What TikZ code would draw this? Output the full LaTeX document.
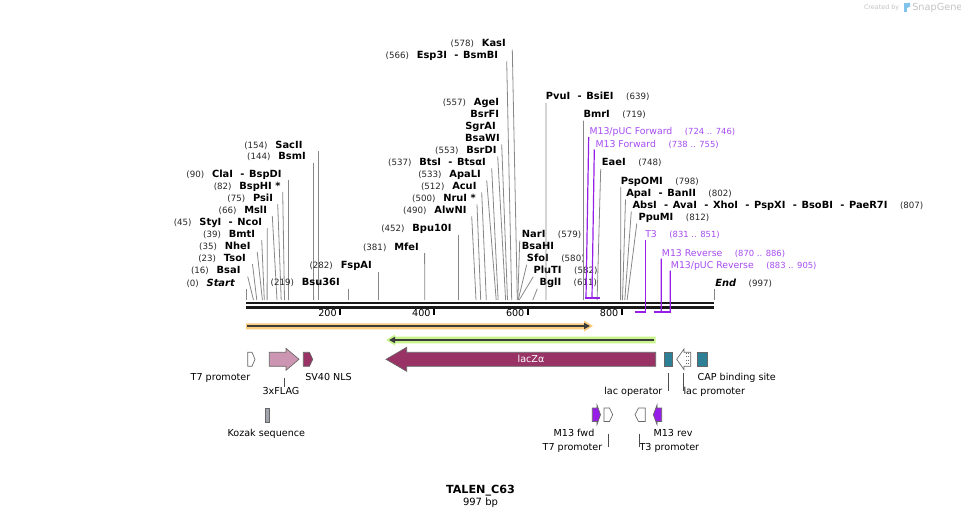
\documentclass[tikz,border=0pt]{standalone}
\usepackage{fontspec}
\setmainfont{DejaVu Sans}
\usetikzlibrary{positioning,arrows.meta}
\definecolor{cutgray}{RGB}{135,135,135}
\definecolor{prmtext}{RGB}{165,75,240}
\definecolor{prmline}{RGB}{150,30,230}
\definecolor{lzmaroon}{RGB}{153,51,102}
\definecolor{flagpink}{RGB}{204,150,178}
\definecolor{opteal}{RGB}{45,128,150}
\definecolor{kozakgray}{RGB}{160,164,172}
\definecolor{orfband}{RGB}{250,202,125}
\definecolor{orfgreen}{RGB}{200,244,140}
\definecolor{arrowdark}{RGB}{60,60,60}
\definecolor{markgray}{RGB}{195,195,195}
\definecolor{snapblue}{RGB}{130,195,235}

\begin{document}
\begin{tikzpicture}[x=0.75pt,y=-0.75pt,enz/.style={font=\fontsize{7.4}{8}\selectfont\bfseries,inner sep=0pt},num/.style={font=\fontsize{6.5}{7}\selectfont,text=black!85,inner sep=0pt},cut/.style={draw=cutgray,line width=0.6pt},prm/.style={font=\fontsize{7}{8}\selectfont,text=prmtext,inner sep=0pt},prmnum/.style={font=\fontsize{6.3}{7}\selectfont,text=prmtext,inner sep=0pt},prmln/.style={draw=prmline,line width=0.9pt},feat/.style={font=\fontsize{7.2}{8}\selectfont,inner sep=0pt},featbox/.style={draw=black!60,line width=0.5pt},tick/.style={draw=black!70,line width=0.6pt}]
\def\dsh{\hspace{5.5pt}-\hspace{3.5pt}}
\def\enzl#1#2#3#4#5#6#7{%
\node[enz,anchor=base east] (#1) at (#2,#3) {#4};
\node[num,base left=5.5pt of #1] (#1n) {(#5)};
\coordinate (#1s) at (#6,300);
\draw[cut] ([shift={(#7,3)}]#1.base east) -- (#1s);}
\def\enzr#1#2#3#4#5#6#7{%
\node[enz,anchor=base west] (#1) at (#2,#3) {#4};
\node[num,base right=9pt of #1] (#1n) {(#5)};
\coordinate (#1s) at (#6,300);
\draw[cut] ([shift={(#7,3)}]#1.base west) -- (#1s);}

\useasboundingbox (0,0) rectangle (961,517);

% backbone and scale
\coordinate (bbL) at (246,303);
\coordinate (bbR) at (714,303);
\draw[line width=1.95pt,black!90] (bbL) -- (bbR);
\draw[line width=1.95pt,black!90] ([yshift=-3.3pt]bbL) -- ([yshift=-3.3pt]bbR);
\draw[line width=1.5pt] (339.9,309) -- (339.9,314.5);
\draw[line width=1.5pt] (433.8,309) -- (433.8,314.5);
\draw[line width=1.5pt] (527.6,309) -- (527.6,314.5);
\draw[line width=1.5pt] (621.5,309) -- (621.5,314.5);
\node[feat,anchor=base east] (s200) at (336.9,316) {200};
\node[feat,anchor=base east] (s400) at (430.8,316) {400};
\node[feat,anchor=base east] (s600) at (524.6,316) {600};
\node[feat,anchor=base east] (s800) at (618.5,316) {800};

% cut sites, left side
\enzl{startl}{235}{286}{\itshape Start}{0}{246}{11}
\enzl{bsai}{240.7}{273.5}{BsaI}{16}{253.5}{7}
\enzl{tsoi}{246}{261}{TsoI}{23}{256.8}{6.5}
\enzl{nhei}{250.7}{249}{NheI}{35}{262.4}{6.5}
\enzl{bmti}{255.3}{237}{BmtI}{39}{264.3}{6.4}
\enzl{styi}{262.3}{225}{StyI\dsh NcoI}{45}{267.1}{5}
\enzl{msli}{267.3}{213}{MslI}{66}{277}{5}
\enzl{psii}{273.3}{201}{PsiI}{75}{281.2}{4.4}
\enzl{bsphi}{280.7}{189}{BspHI *}{82}{284.5}{2}
\enzl{clai}{281.7}{177}{ClaI\dsh BspDI}{90}{288.2}{6.5}
\enzl{bsmi}{306}{160}{BsmI}{144}{313.6}{7.5}
\enzl{sacii}{302.7}{148}{SacII}{154}{318.3}{15.6}
\enzl{bsu36i}{340}{285.5}{Bsu36I}{219}{348.8}{8.8}
\enzl{fspai}{372}{268.5}{FspAI}{282}{378.4}{6.4}
\enzl{mfei}{419}{250}{MfeI}{381}{424.8}{5.6}
\enzl{bpu10i}{451.7}{231.7}{Bpu10I}{452}{458.2}{6.5}
\enzl{alwni}{466.7}{213.3}{AlwNI}{490}{476}{5}
\enzl{nrui}{476}{201.3}{NruI *}{500}{480.7}{1}
\enzl{acui}{476.7}{189.3}{AcuI}{512}{486.3}{5}
\enzl{apali}{481}{177.3}{ApaLI}{533}{496.2}{5.7}
\enzl{btsi}{486}{165.3}{BtsI\dsh BtsαI}{537}{498.1}{5.7}
\enzl{bsrdi}{496.7}{153.3}{BsrDI}{553}{505.6}{1}
\node[enz,anchor=base east] (agei) at (499.3,106) {AgeI};
\node[num,base left=5.5pt of agei] (agein) {(557)};
\node[enz,anchor=base east] (bsrfi) at (499.3,117.5) {BsrFI};
\node[enz,anchor=base east] (sgrai) at (496,129.3) {SgrAI};
\node[enz,anchor=base east] (bsawi) at (500,141.3) {BsaWI};
\coordinate (bsawis) at (507.5,300);
\draw[cut] ([shift={(1.7,3)}]bsawi.base east) -- (bsawis);
\enzl{esp3i}{498.3}{58.3}{Esp3I\dsh BsmBI}{566}{511.7}{8.4}
\enzl{kasi}{506}{46.7}{KasI}{578}{517.3}{6.3}

% cut sites, right side
\enzr{nari}{521.7}{237.7}{NarI}{579}{517.8}{-2}
\node[enz,anchor=base west] (bsahi) at (521.7,249.7) {BsaHI};
\enzr{sfoi}{526.7}{261.7}{SfoI}{580}{518.2}{0}
\enzr{pluti}{533.3}{273.7}{PluTI}{582}{519.2}{0}
\enzr{bgli}{539.3}{285.7}{BglI}{611}{532.8}{-2}
\enzr{pvui}{545.7}{100}{PvuI\dsh BsiEI}{639}{546}{0.3}
\enzr{bmri}{583.3}{117.7}{BmrI}{719}{583.5}{0.2}
\enzr{eaei}{601.7}{166}{EaeI}{748}{597.1}{-1}
\enzr{pspomi}{620.7}{184}{PspOMI}{798}{620.6}{0}
\enzr{apai}{626}{196.5}{ApaI\dsh BanII}{802}{622.5}{-0.5}
\enzr{absi}{632.3}{208.5}{AbsI\dsh AvaI\dsh XhoI\dsh PspXI\dsh BsoBI\dsh PaeR7I}{807}{624.8}{-1}
\enzr{ppumi}{638.3}{220.5}{PpuMI}{812}{627.1}{-1.5}
\enzr{endl}{715}{286}{\itshape End}{997}{714}{-1}

% primers
\def\prmr#1#2#3#4#5{%
\node[prm,anchor=base west] (#1) at (#2,#3) {#4};
\node[prmnum,base right=9pt of #1] (#1n) {(#5)};}
\prmr{pucfwd}{589.3}{134.5}{M13/pUC Forward}{724 .. 746}
\prmr{mfwd}{595.3}{147}{M13 Forward}{738 .. 755}
\prmr{tthree}{645}{237.5}{T3}{831 .. 851}
\prmr{mrev}{661.7}{256}{M13 Reverse}{870 .. 886}
\prmr{pucrev}{670.7}{268}{M13/pUC Reverse}{883 .. 905}
\coordinate (pucfwds) at (586,298);
\coordinate (mfwds) at (592,298);
\coordinate (tthrees) at (645.7,312.5);
\coordinate (mrevs) at (661.3,312.5);
\coordinate (pucrevs) at (670.3,312.5);
\draw[prmln] ([shift={(-0.6,2.5)}]pucfwd.base west) -- (pucfwds);
\draw[prmln] ([shift={(-1,2.5)}]mfwd.base west) -- (mfwds);
\draw[prmln] ([shift={(0.7,2.5)}]tthree.base west) -- (tthrees);
\draw[prmln] ([shift={(-0.4,2.5)}]mrev.base west) -- (mrevs);
\draw[prmln] ([shift={(-0.4,2.5)}]pucrev.base west) -- (pucrevs);
\draw[prmline,line width=1.5pt] (585,298) -- (599.5,298);
\draw[prmline,line width=1.5pt] (634.5,311.7) -- (646,311.7);
\draw[prmline,line width=1.5pt] (653.5,311.7) -- (670.8,311.7);

% ORF arrows
\fill[orfband] (246,323.3) -- (584,323.3) -- (584,320.5) -- (593,326) -- (584,331.5) -- (584,329.3) -- (246,329.3) -- cycle;
\coordinate (orfaL) at (247,326);
\coordinate (orfaR) at (590,326);
\draw[arrowdark,line width=1.5pt,-{Triangle[length=4.5pt,width=4.5pt]}] (orfaL) -- (orfaR);
\fill[orfgreen] (655.5,336.7) -- (395,336.7) -- (395,334.5) -- (386,340) -- (395,345.5) -- (395,343.3) -- (655.5,343.3) -- cycle;
\coordinate (orfbR) at (654,340);
\coordinate (orfbL) at (389,340);
\draw[arrowdark,line width=1.5pt,-{Triangle[length=4.5pt,width=4.5pt]}] (orfbR) -- (orfbL);

% features
\draw[featbox,fill=white] (247.7,352.3) -- (252,352.3) -- (255,359.3) -- (252,366.3) -- (247.7,366.3) -- cycle;
\draw[featbox,fill=flagpink] (269.3,352.3) -- (286,352.3) -- (286,348.3) -- (299,359.3) -- (286,370.3) -- (286,366.3) -- (269.3,366.3) -- cycle;
\draw[featbox,fill=lzmaroon] (303.3,352.3) -- (309.5,352.3) -- (312.7,359.3) -- (309.5,366.3) -- (303.3,366.3) -- cycle;
\draw[featbox,fill=lzmaroon] (655.7,352.3) -- (406.7,352.3) -- (406.7,347.3) -- (386,359.3) -- (406.7,371.3) -- (406.7,366.3) -- (655.7,366.3) -- cycle;
\node[feat,text=white] (lacz) at (531,359) {lacZα};
\draw[featbox,fill=opteal] (664.3,352.3) rectangle (672.7,366.3);
\draw[featbox,fill=white] (690.7,352.3) -- (684,352.3) -- (684,349) -- (676.7,359.3) -- (684,369.6) -- (684,366.3) -- (690.7,366.3) -- cycle;
\draw[black!60,dotted,line width=0.5pt] (686.3,353) -- (686.3,365.6);
\draw[black!60,dotted,line width=0.5pt] (688.5,353) -- (688.5,365.6);
\draw[featbox,fill=opteal] (697.3,352.3) rectangle (707.3,366.3);
\draw[featbox,fill=kozakgray] (265.7,408.3) rectangle (269.3,422.3);
\draw[featbox,fill=prmline] (592.3,408) -- (597,408) -- (597,405) -- (600.5,414.7) -- (597,424.5) -- (597,421.5) -- (592.3,421.5) -- cycle;
\draw[featbox,fill=white] (604,408) -- (609.5,408) -- (612.7,414.7) -- (609.5,421.5) -- (604,421.5) -- cycle;
\draw[featbox,fill=white] (645.3,408) -- (638.5,408) -- (635,414.7) -- (638.5,421.5) -- (645.3,421.5) -- cycle;
\draw[featbox,fill=prmline] (661.7,408) -- (657,408) -- (657,405) -- (653.3,414.7) -- (657,424.5) -- (657,421.5) -- (661.7,421.5) -- cycle;

% feature labels
\node[feat,anchor=base] (tsevenl) at (220.5,380) {T7 promoter};
\node[feat,anchor=base] (flagl) at (281,394.5) {3xFLAG};
\node[feat,anchor=base west] (nlsl) at (305,380) {SV40 NLS};
\node[feat,anchor=base east] (lacol) at (662.7,394.5) {lac operator};
\node[feat,anchor=base west] (lacpl) at (683.3,394.5) {lac promoter};
\node[feat,anchor=base west] (capl) at (697.3,380) {CAP binding site};
\node[feat,anchor=base] (kozakl) at (266.3,436) {Kozak sequence};
\node[feat,anchor=base] (mfwdl) at (574,436.5) {M13 fwd};
\node[feat,anchor=base] (tsevenbl) at (572.5,450) {T7 promoter};
\node[feat,anchor=base west] (mrevl) at (653.3,436.5) {M13 rev};
\node[feat,anchor=base west] (tthreel) at (639.3,450) {T3 promoter};
\coordinate (flagt) at (284.3,377.7);
\coordinate (lacot) at (668.3,373.3);
\coordinate (lacpt) at (683.3,373.3);
\coordinate (tsevenbt) at (608.3,433.5);
\coordinate (tthreet) at (639,433.5);
\draw[tick] (flagt) -- (flagt |- flagl.north);
\draw[tick] (lacot) -- ([yshift=-3pt]lacot |- lacol.north);
\draw[tick] (lacpt) -- ([yshift=-3pt]lacpt |- lacpl.north);
\draw[tick] (tsevenbt) -- ([yshift=-3pt]tsevenbt |- tsevenbl.north);
\draw[tick] (tthreet) -- ([yshift=-3pt]tthreet |- tthreel.north);

% title
\node[font=\fontsize{8.4}{9}\selectfont\bfseries,anchor=base,inner sep=0pt] (title) at (480.5,493) {TALEN\_C63};
\node[font=\fontsize{7.5}{8}\selectfont,anchor=base,inner sep=0pt] (size) at (480.5,505) {997 bp};

% watermark
\node[font=\fontsize{4.8}{5}\selectfont,text=markgray,anchor=base east,inner sep=0pt] (madeby) at (899.5,10) {Created by};
\fill[snapblue] (903.5,3) rectangle (907,12.5);
\fill[snapblue] (907,3) -- (910,3) -- (910,6.5) -- (907,8) -- cycle;
\node[font=\fontsize{7.3}{8}\selectfont,text=markgray,anchor=base west,inner sep=0pt] (snapg) at (912,11) {SnapGene};
\end{tikzpicture}
\end{document}
